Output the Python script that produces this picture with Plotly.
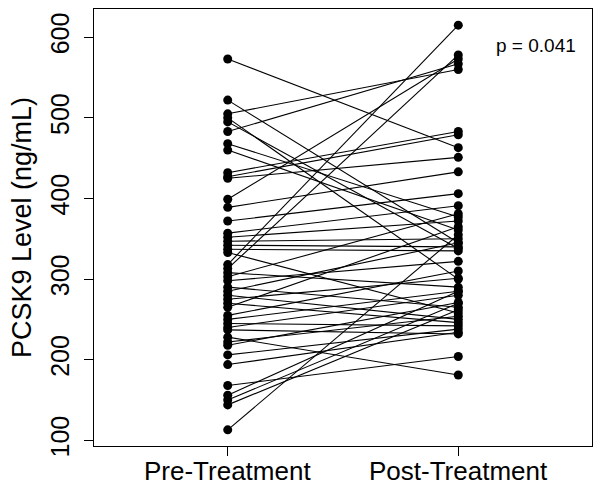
import plotly.graph_objects as go

groups = ["Pre-Treatment", "Post-Treatment"]
pre = [573, 522, 505, 500, 495, 483, 468, 460, 432, 427, 425, 399, 389, 372,
       357, 352, 347, 342, 337, 333, 318, 313, 308, 303, 298, 290, 285, 280,
       275, 270, 265, 255, 250, 245, 240, 237, 228, 222, 218, 206, 194, 168,
       156, 150, 144, 113]
post = [463, 345, 560, 300, 338, 567, 377, 361, 483, 479, 451, 573, 433, 406,
        391, 372, 350, 340, 335, 258, 615, 578, 290, 381, 322, 265, 345, 250,
        301, 246, 365, 310, 285, 242, 280, 232, 181, 254, 271, 238, 234, 204,
        285, 270, 262, 355]
y_ticks = [100, 200, 300, 400, 500, 600]
p_label = "p = 0.041"

xs, ys = [], []
for a, b in zip(pre, post):
    xs += [1, 2, None]
    ys += [a, b, None]

fig = go.Figure()
fig.add_trace(go.Scatter(
    x=xs, y=ys, mode="lines+markers",
    line=dict(color="black", width=1.1),
    marker=dict(color="black", size=9),
    hoverinfo="skip", showlegend=False,
))

fig.add_annotation(x=2.335, y=590, text=p_label, showarrow=False,
                   font=dict(size=19, color="black"), xanchor="center", yanchor="middle")

# category labels under the x axis
for i, g in enumerate(groups, start=1):
    fig.add_annotation(x=i, xref="x", y=0, yref="paper", text=g, showarrow=False,
                       xanchor="center", yanchor="middle", yshift=-25,
                       font=dict(size=26, color="black"))

font = "Liberation Sans, Arial, sans-serif"
fig.update_layout(
    width=601, height=491,
    margin=dict(l=94, r=9, t=9, b=45),
    plot_bgcolor="white", paper_bgcolor="white",
    font=dict(family=font, color="black"),
    xaxis=dict(
        range=[0.42, 2.58], tickvals=[1, 2], showticklabels=False,
        ticks="outside", ticklen=9, tickcolor="black", tickwidth=1,
        showline=True, linecolor="black", linewidth=1, mirror=True,
        showgrid=False, zeroline=False, automargin=False,
    ),
    yaxis=dict(
        range=[93, 635], tickvals=y_ticks, ticktext=[str(v) for v in y_ticks],
        ticks="outside", ticklen=9, tickcolor="black", tickwidth=1,
        showline=True, linecolor="black", linewidth=1, mirror=True,
        showgrid=False, zeroline=False, tickangle=-90,
        tickfont=dict(size=25), ticklabelstandoff=5, automargin=False,
        title=dict(text="PCSK9 Level (ng/mL)", font=dict(size=27), standoff=6),
    ),
)

fig.write_html(
    "out.html",
    config={"displayModeBar": False},
    post_script="document.body.style.margin='0';document.body.style.overflow='hidden';",
)
